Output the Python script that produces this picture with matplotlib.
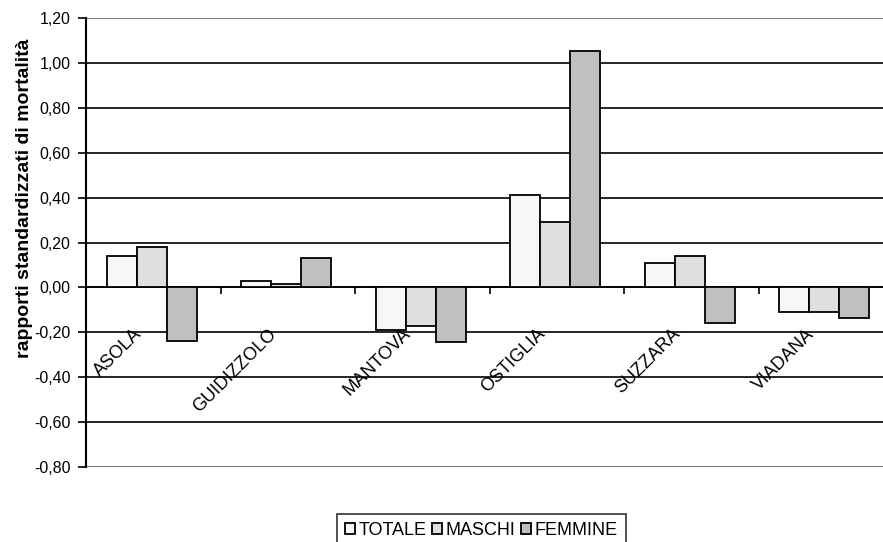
import matplotlib
matplotlib.use("Agg")
import matplotlib.pyplot as plt
import numpy as np

plt.rcParams['font.family'] = ['Liberation Sans', 'DejaVu Sans']

comuni = ['ASOLA', 'GUIDIZZOLO', 'MANTOVA', 'OSTIGLIA', 'SUZZARA', 'VIADANA']
totale = [0.14, 0.03, -0.19, 0.41, 0.11, -0.11]
maschi = [0.18, 0.015, -0.17, 0.29, 0.14, -0.11]
femmine = [-0.24, 0.13, -0.245, 1.055, -0.16, -0.135]
serie = ['TOTALE', 'MASCHI', 'FEMMINE']
colori = ['#f7f7f7', '#dfdfdf', '#c0c0c0']
yticks = np.arange(-0.8, 1.21, 0.2)

fig = plt.figure(figsize=(8.83, 5.42), dpi=100)
ax = fig.add_axes([86/883, 1 - 467/542, 807/883, 449/542])

x = np.arange(len(comuni)) + 0.5
w = 0.223
for k, (vals, nome, col) in enumerate(zip([totale, maschi, femmine], serie, colori)):
    ax.bar(x - 0.01 + (k - 1) * w, vals, width=w, color=col, edgecolor='black',
           linewidth=1.3, label=nome, zorder=3)

# griglia orizzontale
for v in yticks[1:-1]:
    ax.axhline(v, color='black', linewidth=1.2, zorder=1)
ax.axhline(1.2, color='#808080', linewidth=1.5, zorder=1)
ax.axhline(-0.8, color='#808080', linewidth=1.5, zorder=1)

ax.set_xlim(0, 6)
ax.set_ylim(-0.8, 1.2)
ax.set_yticks(yticks)
ax.set_yticklabels([f"{v:.2f}".replace('.', ',').replace('-0,00', '0,00') for v in yticks],
                   fontsize=11.5)
ax.tick_params(axis='y', direction='out', length=6, width=1.2, pad=5)

for s in ['top', 'right']:
    ax.spines[s].set_visible(False)
ax.spines['left'].set_linewidth(1.5)
ax.spines['bottom'].set_position(('data', 0))
ax.spines['bottom'].set_linewidth(1.2)
ax.set_xticks(np.arange(0, 7))
ax.set_xticklabels([])
ax.tick_params(axis='x', direction='out', length=5, width=1.2)

for xi, nome in zip(x, comuni):
    ax.text(xi - 0.06, -0.17, nome, rotation=45, ha='right', va='top',
            fontsize=13, zorder=4)

fig.text(25/883, 1 - 198/542, 'rapporti standardizzati di mortalità', rotation=90,
         ha='center', va='center', fontsize=14, fontweight='bold')

leg = fig.legend(loc='upper left', bbox_to_anchor=(337/883, 1 - 514/542), ncol=3,
                 frameon=True, fancybox=False, edgecolor='black', fontsize=13,
                 handlelength=0.55, handleheight=0.55, handletextpad=0.2,
                 columnspacing=0.3, borderpad=0.45, borderaxespad=0)
leg.get_frame().set_linewidth(1.2)

fig.savefig('out.png', dpi=100)
